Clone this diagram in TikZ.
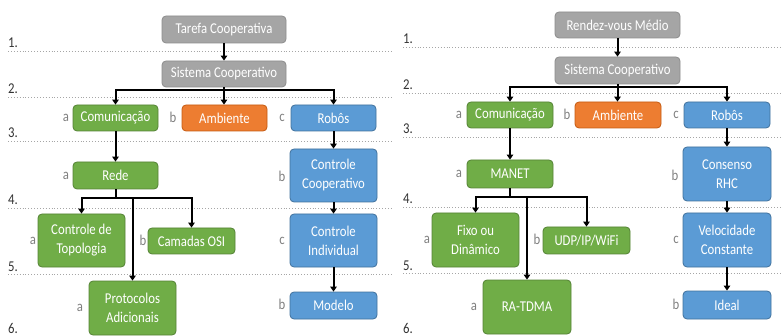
\documentclass[tikz,border=0pt]{standalone}
\usepackage{fontspec}
\setmainfont{Carlito}[FakeStretch=0.85]
\usetikzlibrary{arrows.meta}
\definecolor{gfill}{HTML}{A5A5A5}\definecolor{gdraw}{HTML}{8C8C8C}
\definecolor{grfill}{HTML}{70AD47}\definecolor{grdraw}{HTML}{548235}
\definecolor{ofill}{HTML}{ED7D31}\definecolor{odraw}{HTML}{C55A11}
\definecolor{bfill}{HTML}{5B9BD5}\definecolor{bdraw}{HTML}{41719C}
\definecolor{lbl}{HTML}{808080}\definecolor{num}{HTML}{333333}\definecolor{dotc}{HTML}{A6A6A6}
\tikzset{
  box/.style={rectangle, rounded corners=4pt, line width=0.8pt, text=white, inner sep=0pt, align=center,
    font=\fontsize{15}{19}\selectfont},
  graybox/.style={box, fill=gfill, draw=gdraw},
  greenbox/.style={box, fill=grfill, draw=grdraw},
  orangebox/.style={box, fill=ofill, draw=odraw},
  bluebox/.style={box, fill=bfill, draw=bdraw},
  lab/.style={text=lbl, font=\fontsize{15}{17}\selectfont, inner sep=0pt},
  numlab/.style={text=num, font=\fontsize{15}{17}\selectfont, inner sep=0pt, anchor=base west},
  sep/.style={dotc, dotted, line width=0.9pt},
  arr/.style={line width=2pt, -{Triangle[length=5pt,width=6.5pt]}},
}
\begin{document}
\begin{tikzpicture}[x=1pt,y=-1pt]
\useasboundingbox (0,0) rectangle (783,336);
% separators left
\foreach \yy/\nn in {51/1,97/2,141/3,208/4,274/5}{
  \draw[sep] (8,\yy) -- (393,\yy);
  \node[numlab] (nl\nn) at (8,\yy-3) {\nn.};
}
\node[numlab] (nl6) at (8,333) {6.};
% separators right
\foreach \yy/\nn in {47/1,93/2,137/3,207/4,273/5}{
  \draw[sep] (403,\yy) -- (783,\yy);
  \node[numlab] (nr\nn) at (403,\yy-3) {\nn.};
}
\node[numlab] (nr6) at (403,333) {6.};

% ---------- left panel ----------
\node[graybox, minimum width=124pt, minimum height=27pt] (tar) at (224,29.5) {Tarefa Cooperativa};
\node[graybox, minimum width=124pt, minimum height=26pt] (sis1) at (224,74) {Sistema Cooperativo};
\node[greenbox, minimum width=85pt, minimum height=26pt] (com1) at (115.5,118) {Comunicação};
\node[orangebox, minimum width=85pt, minimum height=26pt] (amb1) at (224.5,118) {Ambiente};
\node[bluebox, minimum width=85pt, minimum height=26pt] (rob1) at (333.5,118) {Robôs};
\node[greenbox, minimum width=85pt, minimum height=27pt] (rede) at (115.5,175.5) {Rede};
\node[bluebox, minimum width=87pt, minimum height=53pt] (ccoop) at (333.5,175.5) {Controle\\Cooperativo};
\node[greenbox, minimum width=87pt, minimum height=53pt] (topo) at (81.5,240.5) {Controle de\\Topologia};
\node[greenbox, minimum width=87pt, minimum height=26pt] (osi) at (191.5,241) {Camadas OSI};
\node[bluebox, minimum width=87pt, minimum height=53pt] (cind) at (333.5,240.5) {Controle\\Individual};
\node[greenbox, minimum width=87pt, minimum height=54pt] (prot) at (132.5,308) {Protocolos\\Adicionais};
\node[bluebox, minimum width=87pt, minimum height=27pt] (mod) at (333.5,305.5) {Modelo};

\node[lab] (la1) at (66,118) {a};
\node[lab] (lb1) at (173,117) {b};
\node[lab] (lc1) at (282,118) {c};
\node[lab] (la2) at (66,175.5) {a};
\node[lab] (lb2) at (282,176) {b};
\node[lab] (la3) at (33,240.5) {a};
\node[lab] (lb3) at (143,240) {b};
\node[lab] (lc3) at (282,240.5) {c};
\node[lab] (la4) at (80,308) {a};
\node[lab] (lb4) at (282,304.5) {b};

\draw[arr] (tar) -- (sis1);
\draw[arr] (sis1.south) -- ++(0,3) -| (com1.north);
\draw[arr] (sis1.south) -- (amb1.north -| sis1.south);
\draw[arr] (sis1.south) -- ++(0,3) -| (rob1.north);
\draw[arr] (com1) -- (rede);
\draw[arr] (rob1) -- (ccoop);
\draw[arr] (rede.south) -- ++(0,9) -| (topo.north);
\draw[arr] (rede.south) -- ++(0,9) -| (osi.north);
\draw[arr] (rede.south) -- ++(0,9) -| (prot.north);
\draw[arr] (ccoop) -- (cind);
\draw[arr] (cind) -- (mod);

% ---------- right panel ----------
\node[graybox, minimum width=125pt, minimum height=26pt] (ren) at (617.5,25) {Rendez-vous Médio};
\node[graybox, minimum width=125pt, minimum height=27pt] (sis2) at (617.5,70.5) {Sistema Cooperativo};
\node[greenbox, minimum width=86pt, minimum height=26pt] (com2) at (510,115) {Comunicação};
\node[orangebox, minimum width=86pt, minimum height=26pt] (amb2) at (618,115) {Ambiente};
\node[bluebox, minimum width=86pt, minimum height=26pt] (rob2) at (727,115) {Robôs};
\node[greenbox, minimum width=86pt, minimum height=28pt] (manet) at (510,174) {MANET};
\node[bluebox, minimum width=88pt, minimum height=54pt] (cons) at (727,174) {Consenso\\RHC};
\node[greenbox, minimum width=87pt, minimum height=54pt] (fixo) at (475.5,240) {Fixo ou\\Dinâmico};
\node[greenbox, minimum width=87pt, minimum height=27pt] (udp) at (586.5,240.5) {UDP/IP/WiFi};
\node[bluebox, minimum width=88pt, minimum height=54pt] (vel) at (727,240) {Velocidade\\Constante};
\node[greenbox, minimum width=88pt, minimum height=54pt] (ra) at (527,307) {RA-TDMA};
\node[bluebox, minimum width=88pt, minimum height=28pt] (ideal) at (727,305) {Ideal};

\node[lab] (ra1) at (459,115) {a};
\node[lab] (rb1) at (567,114) {b};
\node[lab] (rc1) at (676,115) {c};
\node[lab] (ra2) at (459,174) {a};
\node[lab] (rb2) at (675,175) {b};
\node[lab] (ra3) at (427,240) {a};
\node[lab] (rb3) at (537,239.5) {b};
\node[lab] (rc3) at (676,240) {c};
\node[lab] (ra4) at (474,307) {a};
\node[lab] (rb4) at (676,304) {b};

\draw[arr] (ren) -- (sis2);
\draw[arr] (sis2.south) -- ++(0,3) -| (com2.north);
\draw[arr] (sis2.south) -- (amb2.north -| sis2.south);
\draw[arr] (sis2.south) -- ++(0,3) -| (rob2.north);
\draw[arr] (com2) -- (manet);
\draw[arr] (rob2) -- (cons);
\draw[arr] (manet.south) -- ++(0,9) -| (fixo.north);
\draw[arr] (manet.south) -- ++(0,9) -| (udp.north);
\draw[arr] (manet.south) -- ++(0,9) -| (ra.north);
\draw[arr] (cons) -- (vel);
\draw[arr] (vel) -- (ideal);
\end{tikzpicture}
\end{document}
